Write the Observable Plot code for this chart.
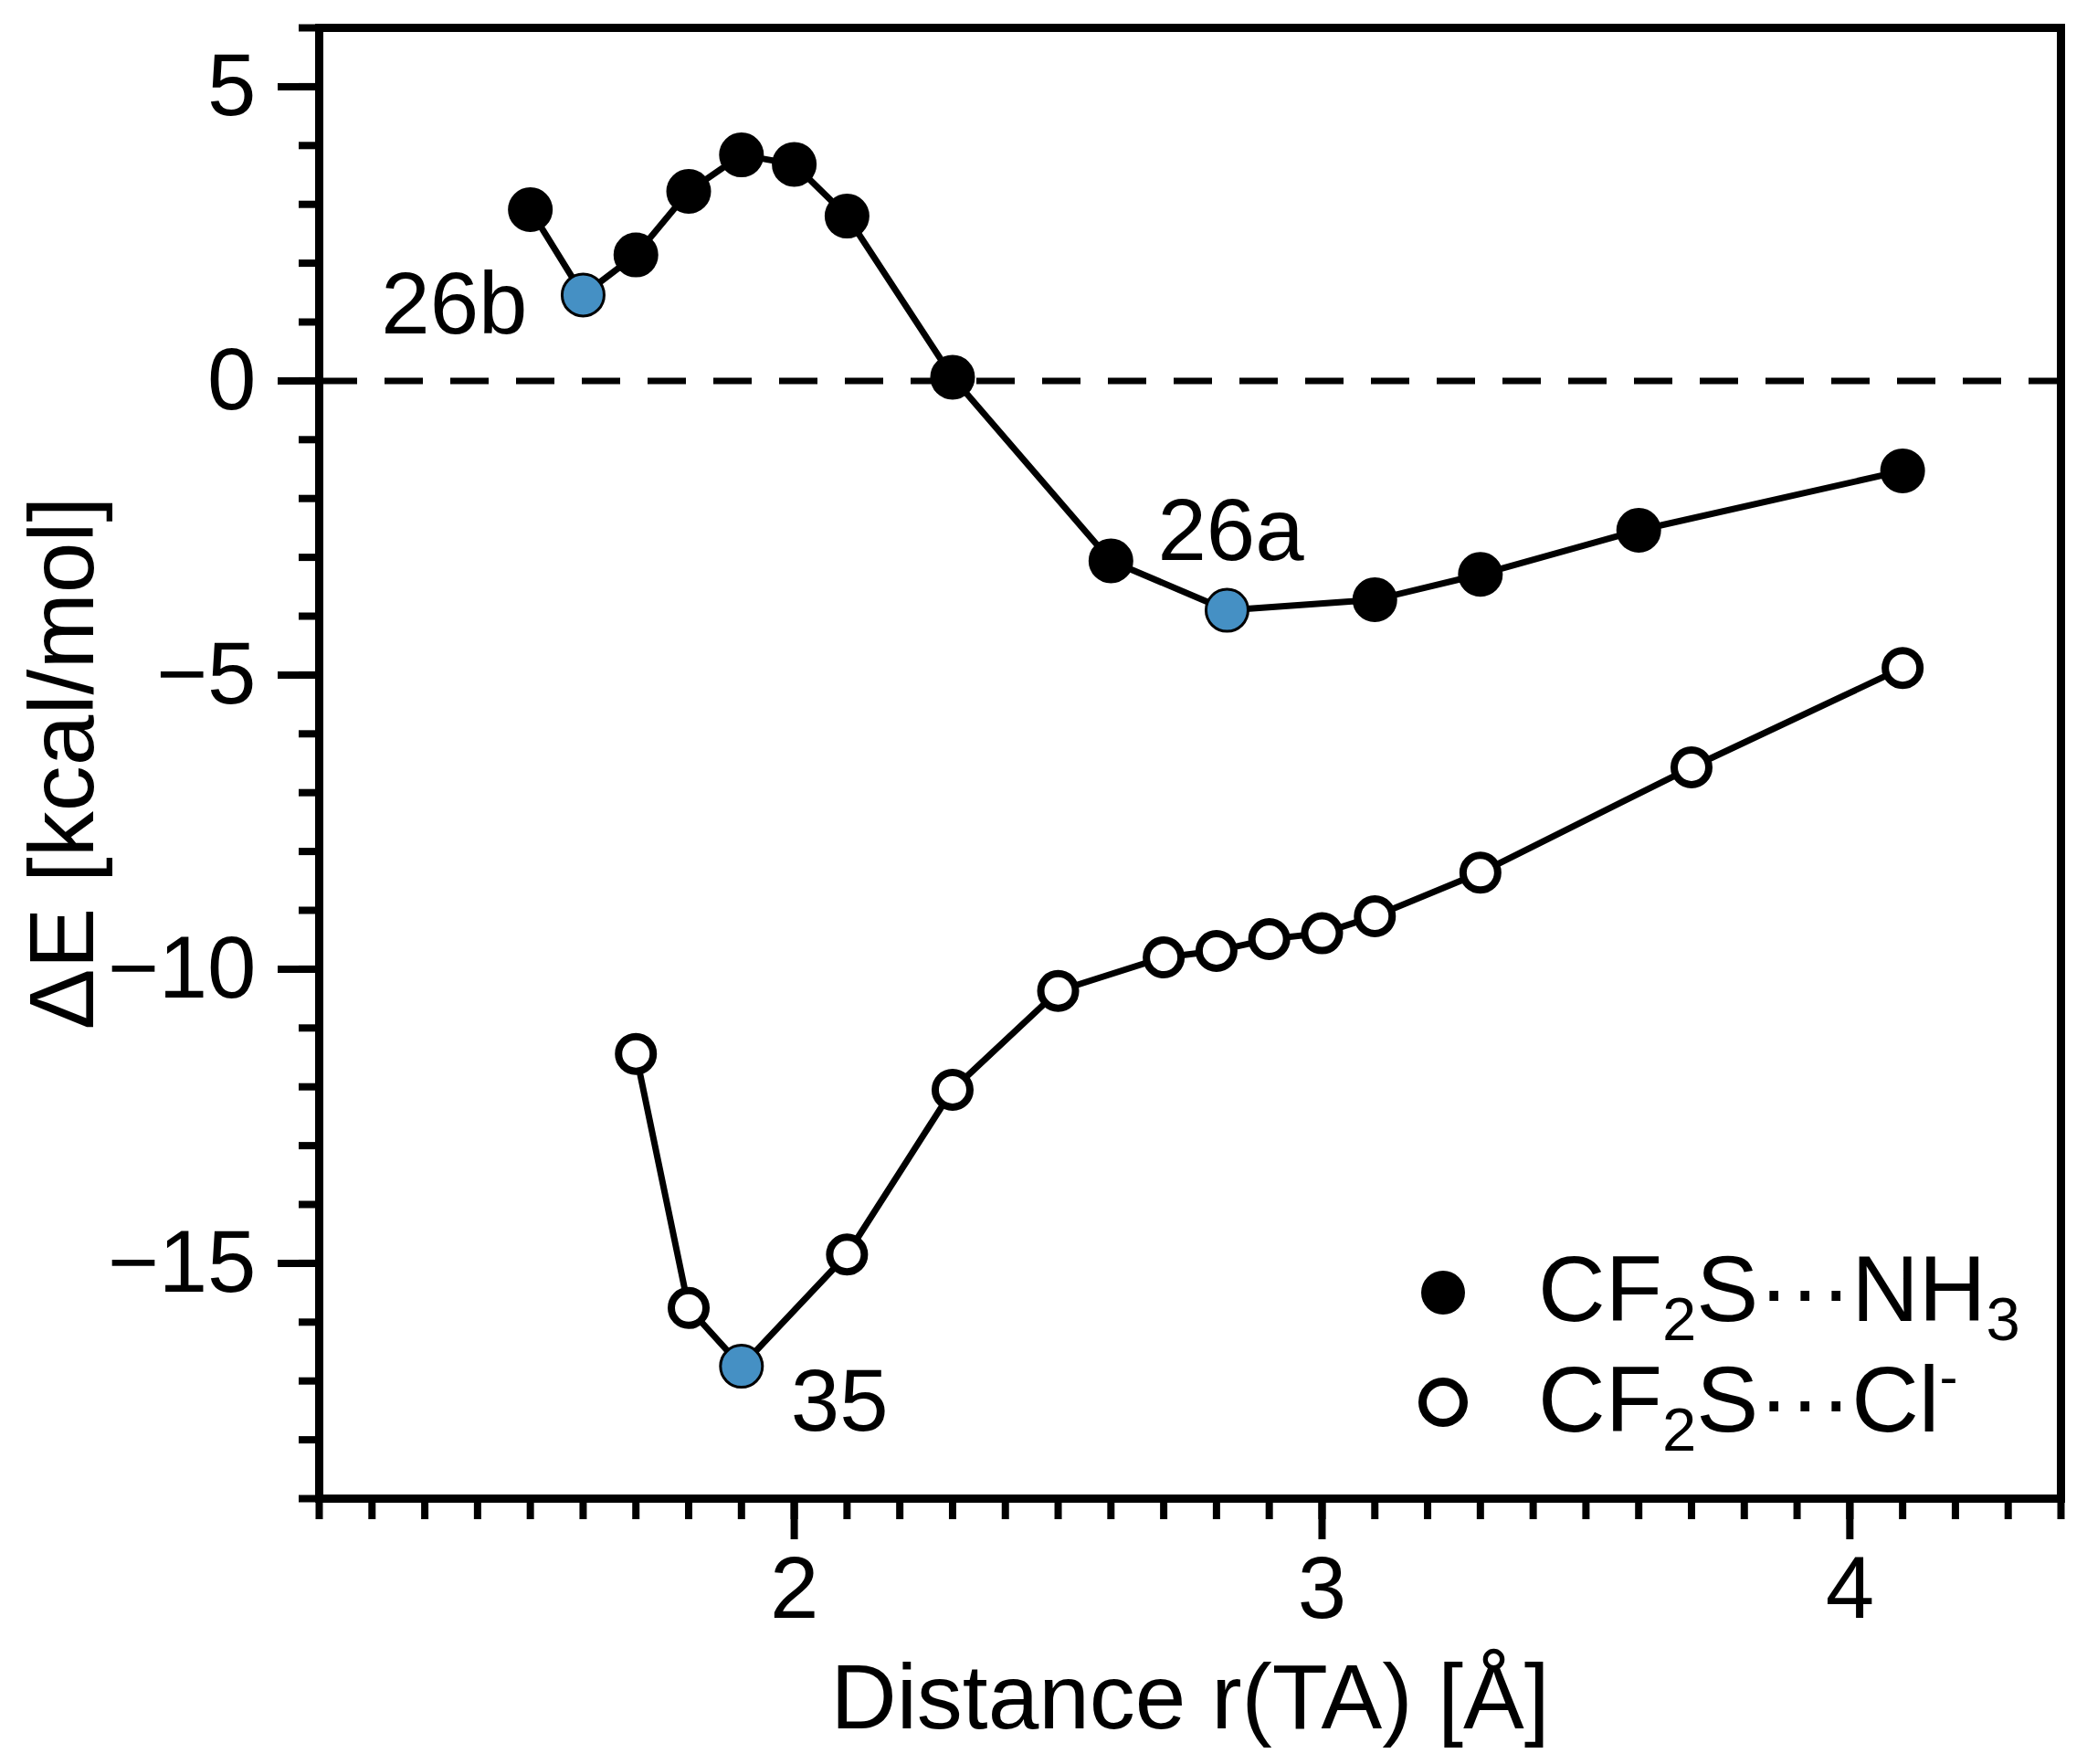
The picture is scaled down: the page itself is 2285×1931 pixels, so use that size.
<!DOCTYPE html>
<html>
<head>
<meta charset="utf-8">
<script src="https://cdn.jsdelivr.net/npm/d3@7"></script>
<script src="https://cdn.jsdelivr.net/npm/@observablehq/plot@0.6"></script>
<style>
  body { margin: 0; background: white; }
</style>
</head>
<body>
<div id="chart"></div>
<script>
// CF2S...NH3 scan (filled dots)
const nh3Dist = [1.5, 1.6, 1.7, 1.8, 1.9, 2.0, 2.1, 2.3, 2.6, 2.82, 3.1, 3.3, 3.6, 4.1];
const nh3Energy = [2.91, 1.46, 2.14, 3.22, 3.84, 3.68, 2.8, 0.06, -3.06, -3.9, -3.72, -3.29, -2.54, -1.53];

// CF2S...Cl- scan (open dots)
const clDist = [1.7, 1.8, 1.9, 2.1, 2.3, 2.5, 2.7, 2.8, 2.9, 3.0, 3.1, 3.3, 3.7, 4.1];
const clEnergy = [-11.44, -15.76, -16.75, -14.85, -12.05, -10.37, -9.8, -9.69, -9.49, -9.39, -9.1, -8.36, -6.57, -4.88];

// labelled stationary points: [series, index, name]
const marked = [
  ["nh3", 1, "26b"],
  ["nh3", 9, "26a"],
  ["cl", 2, "35"],
];

const yMajor = [5, 0, -5, -10, -15];
const xMajor = [2, 3, 4];

const blue = "#4590c4";
const font = "Liberation Sans, Arial, Helvetica, sans-serif";

const nh3 = nh3Dist.map((x, i) => ({ x, y: nh3Energy[i] }));
const cl = clDist.map((x, i) => ({ x, y: clEnergy[i] }));
for (const [s, i, name] of marked) {
  const p = s === "nh3" ? nh3[i] : cl[i];
  p.name = name;
}
const pt = (name) => [...nh3, ...cl].filter((d) => d.name === name);

const fmt = (d) => (d < 0 ? "\u2212" + -d : String(d));

const plt = Plot.plot({
  width: 2285,
  height: 1931,
  marginLeft: 349,
  marginRight: 29,
  marginTop: 30,
  marginBottom: 291,
  style: { fontFamily: font, fontSize: "96px", background: "white", color: "black" },
  x: { domain: [1.1, 4.4] },
  y: { domain: [-19, 6] },
  marks: [
    Plot.ruleY([0], { strokeWidth: 7, strokeDasharray: "42,30" }),
    Plot.axisY(d3.range(-19, 7), { tickSize: 22, strokeWidth: 8, tickFormat: () => "", label: null }),
    Plot.axisY(yMajor, { tickSize: 45, tickPadding: 24, strokeWidth: 8, tickFormat: fmt, fontSize: 96, label: null }),
    Plot.axisX(d3.range(11, 45).map((i) => i / 10), { tickSize: 23, strokeWidth: 8, tickFormat: () => "", label: null }),
    Plot.axisX(xMajor, { tickSize: 45, tickPadding: 17, strokeWidth: 8, tickFormat: fmt, fontSize: 96, label: null }),
    Plot.frame({ strokeWidth: 9 }),
    Plot.line(nh3, { x: "x", y: "y", strokeWidth: 7 }),
    Plot.line(cl, { x: "x", y: "y", strokeWidth: 7 }),
    Plot.dot(nh3, { x: "x", y: "y", r: 23, fill: (d) => (d.name ? blue : "black"), stroke: "black", strokeWidth: 3 }),
    Plot.dot(cl.filter((d) => !d.name), { x: "x", y: "y", r: 19, fill: "white", stroke: "black", strokeWidth: 8 }),
    Plot.dot(cl.filter((d) => d.name), { x: "x", y: "y", r: 23, fill: blue, stroke: "black", strokeWidth: 3 }),
    Plot.text(pt("26b"), { x: "x", y: "y", text: "name", textAnchor: "end", dx: -61, dy: 11, fontSize: 96 }),
    Plot.text(pt("26a"), { x: "x", y: "y", text: "name", textAnchor: "start", dx: -76, dy: -86, fontSize: 96 }),
    Plot.text(pt("35"), { x: "x", y: "y", text: "name", textAnchor: "start", dx: 54, dy: 40, fontSize: 96 }),
    Plot.text(["Distance r(TA) [Å]"], {
      frameAnchor: "bottom", textAnchor: "middle", lineAnchor: "middle", dy: 219, fontSize: 100,
    }),
    Plot.text(["\u0394E [kcal/mol]"], {
      frameAnchor: "left", textAnchor: "middle", lineAnchor: "middle", dx: -280, rotate: -90, fontSize: 100,
    }),
  ],
});

// legend, drawn by hand in the lower right corner
const svg = d3.select(plt);
const leg = svg.append("g").attr("font-family", font).attr("fill", "black").attr("text-anchor", "start");
leg.append("circle").attr("cx", 1580).attr("cy", 1415).attr("r", 24).attr("fill", "black");
leg.append("circle").attr("cx", 1580).attr("cy", 1535).attr("r", 22.5)
  .attr("fill", "white").attr("stroke", "black").attr("stroke-width", 9);

function formula(y, tail, sup) {
  const t = leg.append("text").attr("x", 1684).attr("y", y).attr("font-size", 102);
  t.append("tspan").text("CF");
  t.append("tspan").attr("font-size", 67).attr("dy", 21).text("2");
  t.append("tspan").attr("dy", -21).text("S\u00b7\u00b7\u00b7" + tail);
  if (sup === "3") {
    t.append("tspan").attr("font-size", 67).attr("dy", 21).text("3");
  } else {
    t.append("tspan").attr("font-size", 60).attr("dy", -40).text("-");
  }
}
formula(1446, "NH", "3");
formula(1567, "Cl", "-");

document.querySelector("#chart").append(plt);
</script>
</body>
</html>
